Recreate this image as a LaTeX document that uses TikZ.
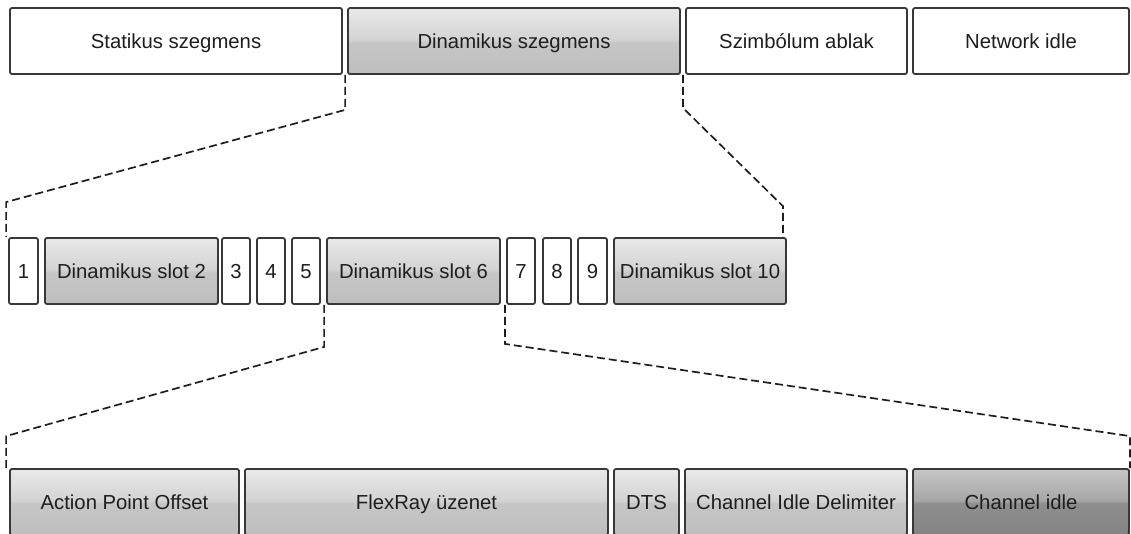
\documentclass[tikz,border=0pt]{standalone}
\usepackage{fontspec}
\setmainfont{Liberation Sans}
\usetikzlibrary{calc}

% glass-like fills: light upper half, flat darker lower half
\definecolor{lgT}{HTML}{E9E9E9}
\definecolor{lgM}{HTML}{D3D3D3}
\definecolor{lgC}{HTML}{C6C6C6}
\definecolor{lgB}{HTML}{BEBEBE}
\definecolor{dgT}{HTML}{C6C6C6}
\definecolor{dgM}{HTML}{A6A6A6}
\definecolor{dgC}{HTML}{8E8E8E}
\definecolor{dgB}{HTML}{838383}
\definecolor{edge}{HTML}{383838}
\definecolor{ink}{HTML}{1E1E1E}
\pgfdeclareverticalshading{glasslight}{100bp}{color(0bp)=(lgB); color(25bp)=(lgB); color(49bp)=(lgC); color(51bp)=(lgM); color(75bp)=(lgT); color(100bp)=(lgT)}
\pgfdeclareverticalshading{glassdark}{100bp}{color(0bp)=(dgB); color(25bp)=(dgB); color(49bp)=(dgC); color(51bp)=(dgM); color(75bp)=(dgT); color(100bp)=(dgT)}

\begin{document}
\begin{tikzpicture}[x=1pt,y=-1pt,
  cell/.style={draw=edge, line width=1.8pt, rounded corners=2pt,
    minimum height=66pt, inner sep=0pt, text=ink,
    text height=14.5pt, text depth=0pt,
    font=\fontsize{20.3}{24}\selectfont},
  plain/.style={cell, fill=white},
  lit/.style={cell, shading=glasslight, shading angle=0},
  dark/.style={cell, shading=glassdark, shading angle=0},
  zoomline/.style={draw=ink, line width=1.7pt, dash pattern=on 8pt off 4pt}]
\useasboundingbox (0,0) rectangle (1131,533);
\clip (0,0) rectangle (1131,533);

% communication cycle
\node[plain, minimum width=332pt] (stat) at (176,41) {Statikus szegmens};
\node[lit,   minimum width=332pt] (dyn)  at (514,41) {Dinamikus szegmens};
\node[plain, minimum width=221pt] (szim) at (796.5,41) {Szimbólum ablak};
\node[plain, minimum width=216pt] (net)  at (1021,41) {Network idle};

% dynamic segment slots
\node[plain, minimum width=29pt]  (s1)  at (23.5,271)  {1};
\node[lit,   minimum width=173pt] (s2)  at (131.5,271) {Dinamikus slot 2};
\node[plain, minimum width=28pt]  (s3)  at (236,271)   {3};
\node[plain, minimum width=28pt]  (s4)  at (271,271)   {4};
\node[plain, minimum width=28pt]  (s5)  at (306,271)   {5};
\node[lit,   minimum width=173pt] (s6)  at (413.5,271) {Dinamikus slot 6};
\node[plain, minimum width=28pt]  (s7)  at (521,271)   {7};
\node[plain, minimum width=28pt]  (s8)  at (557,271)   {8};
\node[plain, minimum width=29pt]  (s9)  at (592.5,271) {9};
\node[lit,   minimum width=172pt] (s10) at (700,271)   {Dinamikus slot 10};

% structure of one dynamic slot
\node[lit,  minimum width=229pt] (apo)   at (124.5,502) {Action Point Offset};
\node[lit,  minimum width=363pt] (flex)  at (426.5,502) {FlexRay üzenet};
\node[lit,  minimum width=65pt]  (dts)   at (646.5,502) {DTS};
\node[lit,  minimum width=222pt] (cid)   at (796,502)   {Channel Idle Delimiter};
\node[dark, minimum width=216pt] (cidle) at (1021,502)  {Channel idle};

% zoom guides: segment -> slots
\draw[zoomline] ([xshift=-2pt]dyn.south west) -- ++(0,35)
  -- ([xshift=-2pt,yshift=35pt]s1.north west) -- ([xshift=-2pt]s1.north west);
\draw[zoomline] ([xshift=2pt]dyn.south east) -- ++(0,33)
  -- ([xshift=-4pt,yshift=31pt]s10.north east) -- ([xshift=-4pt]s10.north east);

% zoom guides: slot 6 -> slot structure
\draw[zoomline] ([xshift=-2pt]s6.south west) -- ++(0,42)
  -- ([xshift=-3pt,yshift=32pt]apo.north west) -- ([xshift=-3pt]apo.north west);
\draw[zoomline] ([xshift=4pt]s6.south east) -- ++(0,39)
  -- ([yshift=32pt]cidle.north east) -- (cidle.north east);
\end{tikzpicture}
\end{document}
